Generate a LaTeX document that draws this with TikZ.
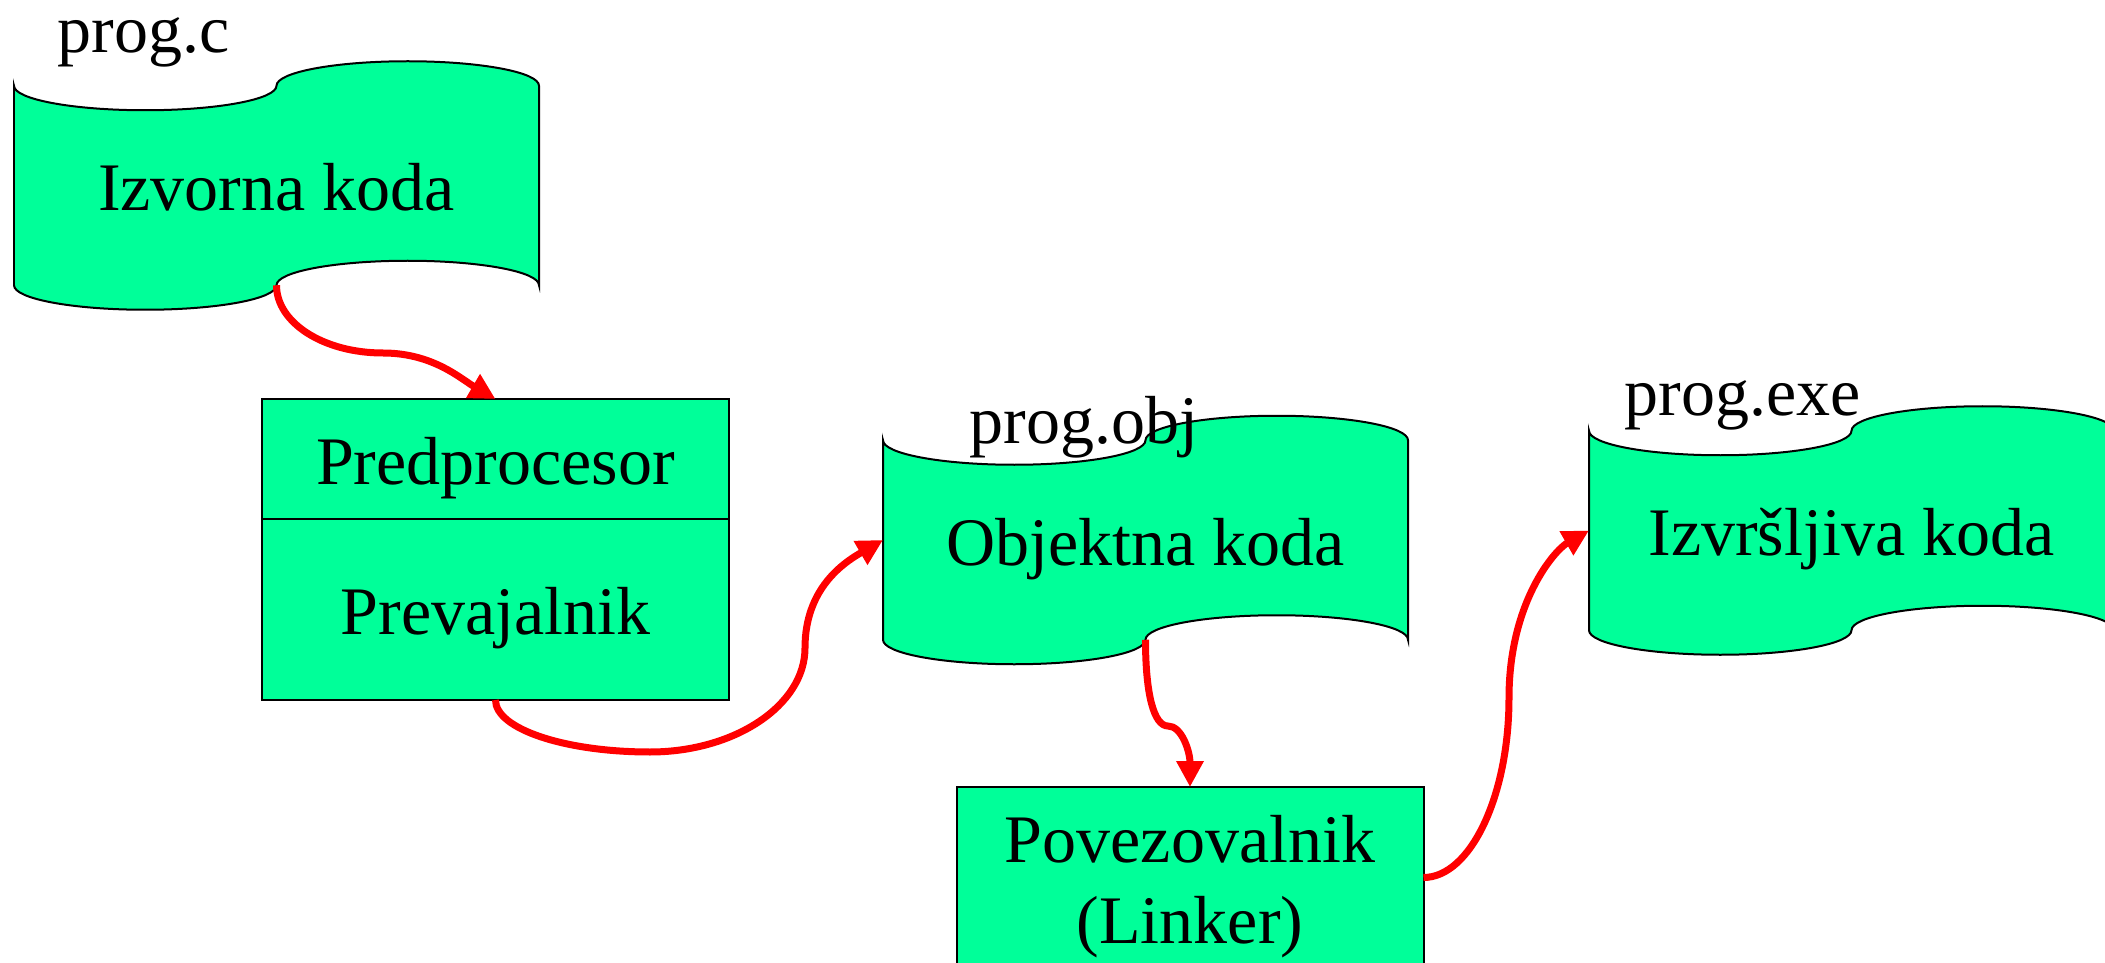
\documentclass[tikz,border=0pt]{standalone}
\usepackage{fontspec}
\setmainfont{Liberation Serif}
\usepackage{tikz}
\usetikzlibrary{arrows.meta,positioning}
\definecolor{FlowGreen}{HTML}{00FF99}
\definecolor{FlowRed}{HTML}{FF0000}

\pgfdeclarelayer{background}
\pgfsetlayers{background,main}

% wavy paper-tape outline around a (rectangular) node
\newcommand{\tapeoutline}[1]{%
  \filldraw[tapeline] (#1.north west)
    arc[start angle=180,end angle=360,x radius=2.625cm,y radius=0.49cm]
    arc[start angle=180,end angle=0,x radius=2.625cm,y radius=0.49cm]
    -- (#1.south east)
    arc[start angle=0,end angle=180,x radius=2.625cm,y radius=0.49cm]
    arc[start angle=360,end angle=180,x radius=2.625cm,y radius=0.49cm]
    -- cycle;}

\begin{document}
\begin{tikzpicture}[
    font=\fontsize{38.7}{46.1}\selectfont,
    tapeline/.style={draw=black,fill=FlowGreen,line width=0.04cm},
    tapebox/.style={minimum width=10.5cm,minimum height=3.99cm,outer sep=0pt,
      text height=1.22cm,text depth=0.22cm},
    procbox/.style={rectangle,draw,fill=FlowGreen,line width=0.04cm,outer sep=0pt,
      minimum width=9.34cm},
    fname/.style={anchor=base west,inner sep=0pt},
    arr/.style={-{Triangle[length=0.52cm,width=0.52cm]},line width=0.14cm,FlowRed}
  ]
    \useasboundingbox (0,0) rectangle (42.1,-19.26);

    % files
    \node[tapebox] (izv) at (5.53,-3.71) {Izvorna koda};
    \node[tapebox] (obj) at (22.91,-10.8) {Objektna koda};
    \node[tapebox] (exe) at (37.03,-10.61) {Izvršljiva koda};
    \begin{pgfonlayer}{background}
      \foreach \t in {izv,obj,exe} \tapeoutline{\t};
    \end{pgfonlayer}

    % tools
    \node[procbox,minimum height=2.4cm,text height=1.22cm,text depth=0.22cm] (pred) at (9.91,-9.18) {Predprocesor};
    \node[procbox,minimum height=3.62cm,text height=1.22cm,text depth=0.22cm,below=0pt of pred] (prev) {Prevajalnik};
    \node[procbox,minimum height=3.62cm,align=center,text height=2.86cm,text depth=0.22cm] (link) at (23.8,-17.55) {Povezovalnik\\(Linker)};

    % file names
    \node[fname] (cname) at (1.14,-1.06) {prog.c};
    \node[fname] (oname) at (19.38,-8.86) {prog.obj};
    \node[fname] (ename) at (32.48,-8.3) {prog.exe};

    % bend points
    \coordinate (b1) at (7.66,-7.06);
    \coordinate (b2) at (13.0,-15.04);
    \coordinate (b3) at (16.1,-12.96);
    \coordinate (b4) at (23.36,-14.52);
    \coordinate (b5) at (30.18,-13.96);

    \draw[arr] (izv.south) .. controls +(0,-0.75) and +(-1.19,0) .. (b1)
      .. controls +(1.0,0) and +(-0.69,0.4) .. (pred.north);
    \draw[arr] (prev.south) .. controls +(0,-0.58) and +(-1.7,0) .. (b2)
      .. controls +(1.7,0) and +(0,-1.14) .. (b3)
      .. controls +(0,1.2) and +(-0.78,-0.45) .. (obj.west);
    \draw[arr] (obj.south) .. controls +(0,-1.1) and +(-0.28,0) .. (b4)
      .. controls +(0.28,0) and +(0,0.7) .. (link.north);
    \draw[arr] (link.east) .. controls +(0.94,0) and +(0,-1.95) .. (b5)
      .. controls +(0,1.9) and +(-0.7,-0.4) .. (exe.west);
  \end{tikzpicture}
\end{document}
